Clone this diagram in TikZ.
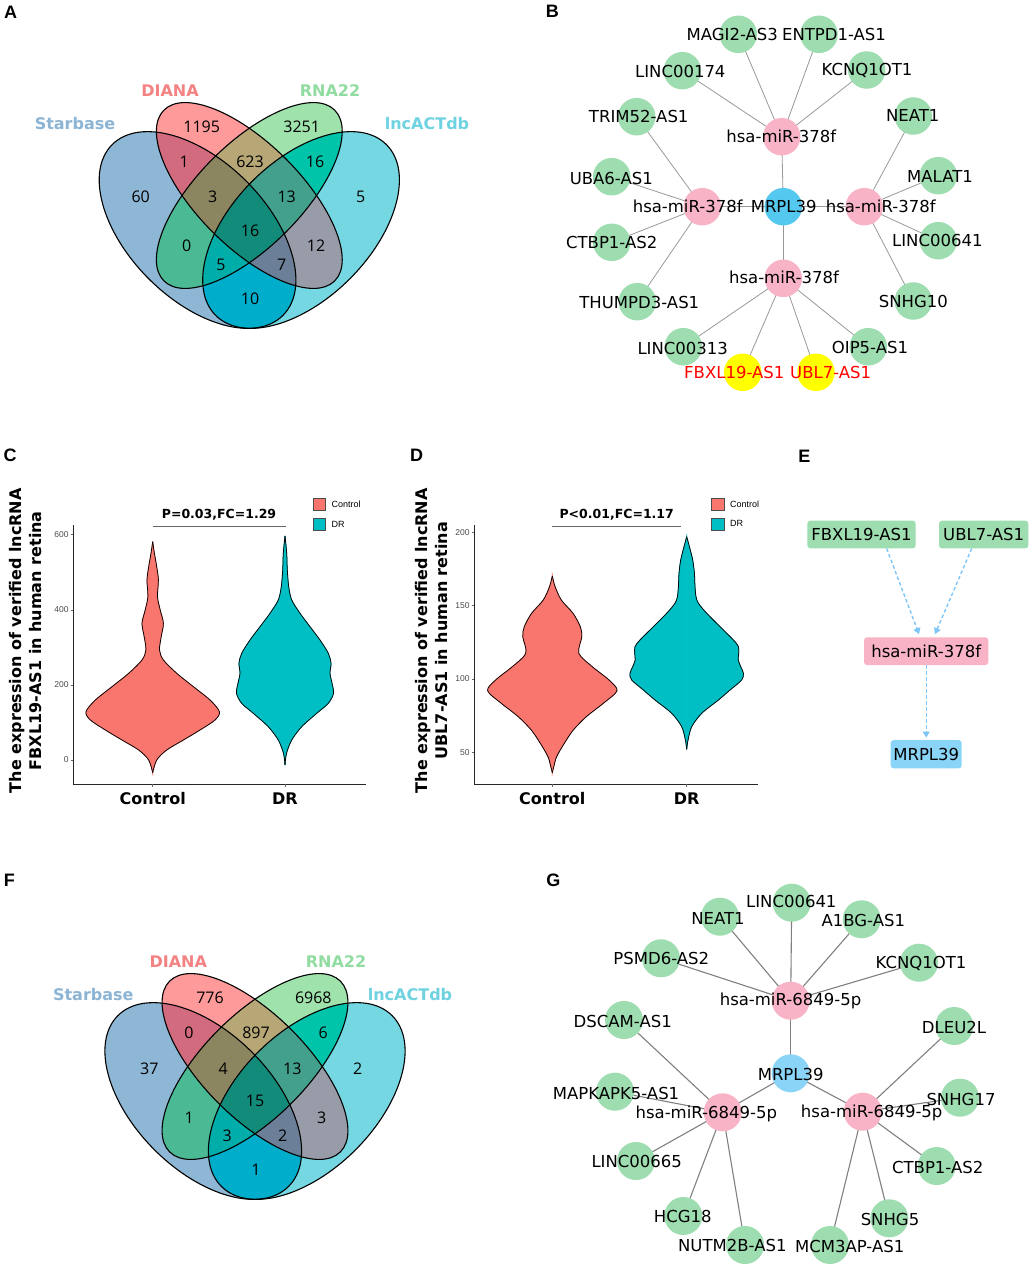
\documentclass[tikz,border=0pt]{standalone}
\usepackage{fontspec}
\setmainfont{DejaVu Sans}
\newfontfamily\arialf{Liberation Sans}
\newfontfamily\numf{Open Sans}
\usetikzlibrary{arrows.meta,calc}
\pgfdeclarelayer{bg}
\pgfsetlayers{bg,main}
% venn colours
\definecolor{vS}{HTML}{8EB7D5}
\definecolor{vD}{HTML}{FF9A9A}
\definecolor{vR}{HTML}{A0E2AB}
\definecolor{vL}{HTML}{75D7E1}
\definecolor{vSD}{HTML}{D36B7F}
\definecolor{vDR}{HTML}{B7A776}
\definecolor{vRL}{HTML}{00C4AA}
\definecolor{vSL}{HTML}{00ADCA}
\definecolor{vSR}{HTML}{4BB993}
\definecolor{vDL}{HTML}{989CA8}
\definecolor{vSDR}{HTML}{8B8660}
\definecolor{vDRL}{HTML}{43A08C}
\definecolor{vSRL}{HTML}{00ADA8}
\definecolor{vSDL}{HTML}{6B7F98}
\definecolor{vSDRL}{HTML}{138B7B}
\definecolor{tS}{HTML}{8CB4D4}
\definecolor{tD}{HTML}{F58282}
\definecolor{tR}{HTML}{91DCA0}
\definecolor{tL}{HTML}{6ED2E1}
% network colours
\definecolor{ngreen}{HTML}{9EDDB0}
\definecolor{npink}{HTML}{F8B4C6}
\definecolor{nblueB}{HTML}{55C8F0}
\definecolor{nblueG}{HTML}{8AD4F7}
\definecolor{nyellow}{HTML}{FFFF00}
\definecolor{ered}{HTML}{FF0000}
\definecolor{arrowblue}{HTML}{7DC6F7}
% violin colours
\definecolor{vctrl}{HTML}{F8766D}
\definecolor{vdr}{HTML}{00BFC4}
\newcommand\netf{\fontsize{16.5}{18}\selectfont}
\newcommand\ellS[1]{\path[#1,rotate around={-45:(-51.75,0)}] (-51.75,0) ellipse [x radius=120.75pt,y radius=69pt];}
\newcommand\ellD[1]{\path[#1,rotate around={-45:(0,-34.5)}] (0,-34.5) ellipse [x radius=120.75pt,y radius=51.75pt];}
\newcommand\ellR[1]{\path[#1,rotate around={45:(0,-34.5)}] (0,-34.5) ellipse [x radius=120.75pt,y radius=51.75pt];}
\newcommand\ellL[1]{\path[#1,rotate around={45:(51.75,0)}] (51.75,0) ellipse [x radius=120.75pt,y radius=69pt];}
\newcommand\vennshapes{%
 \ellS{fill=vS}\ellD{fill=vD}\ellR{fill=vR}\ellL{fill=vL}
 \begin{scope}\ellS{clip}\ellD{fill=vSD}\end{scope}
 \begin{scope}\ellS{clip}\ellR{fill=vSR}\end{scope}
 \begin{scope}\ellS{clip}\ellL{fill=vSL}\end{scope}
 \begin{scope}\ellD{clip}\ellR{fill=vDR}\end{scope}
 \begin{scope}\ellD{clip}\ellL{fill=vDL}\end{scope}
 \begin{scope}\ellR{clip}\ellL{fill=vRL}\end{scope}
 \begin{scope}\ellS{clip}\ellD{clip}\ellR{fill=vSDR}\end{scope}
 \begin{scope}\ellS{clip}\ellD{clip}\ellL{fill=vSDL}\end{scope}
 \begin{scope}\ellS{clip}\ellR{clip}\ellL{fill=vSRL}\end{scope}
 \begin{scope}\ellD{clip}\ellR{clip}\ellL{fill=vDRL}\end{scope}
 \begin{scope}\ellS{clip}\ellD{clip}\ellR{clip}\ellL{fill=vSDRL}\end{scope}
 \ellS{draw=black,line width=1.1pt}\ellD{draw=black,line width=1.1pt}
 \ellR{draw=black,line width=1.1pt}\ellL{draw=black,line width=1.1pt}}
\newcommand\violin[3]{%
 \begin{scope}[shift={(#1,0)}]
 \filldraw[fill=#2,draw=#2,line width=0.8pt] plot[smooth] coordinates {#3} -- cycle;
 \filldraw[fill=#2,draw=#2,line width=0.8pt,xscale=-1] plot[smooth] coordinates {#3} -- cycle;
 \draw[line width=0.75pt] plot[smooth] coordinates {#3};
 \draw[line width=0.75pt,xscale=-1] plot[smooth] coordinates {#3};
 \end{scope}}
\tikzset{
 plet/.style={font=\arialf\bfseries\fontsize{18}{18}\selectfont, inner sep=0pt},
 vnum/.style={font=\numf\fontsize{16}{16}\selectfont, inner sep=0pt, text height=11.4pt, text depth=0pt},
 vset/.style={font=\bfseries\fontsize{16}{17}\selectfont, inner sep=0pt, text height=11.5pt, text depth=0pt},
 gnode/.style={circle, fill=ngreen, minimum size=37.5pt, inner sep=0pt},
 pnode/.style={circle, fill=npink, minimum size=37.5pt, inner sep=0pt},
 ynode/.style={circle, fill=nyellow, minimum size=37.5pt, inner sep=0pt},
 lab/.style={font=\netf, inner sep=0pt, text height=12pt, text depth=0pt},
 redlab/.style={lab, text=ered},
 edgeB/.style={draw=black!40, line width=0.8pt},
 edgeG/.style={draw=black!50, line width=1.1pt},
 ebox/.style={rectangle, rounded corners=3pt, minimum height=27.7pt, inner sep=2pt, font=\netf},
 earrow/.style={draw=arrowblue, line width=1.4pt, dash pattern=on 3.5pt off 2.5pt, -{Triangle[length=6pt,width=7pt]}},
 axisl/.style={line width=0.8pt, draw=black!85},
 tickl/.style={line width=0.6pt, draw=black!60},
 ticklab/.style={font=\arialf\fontsize{8.5}{9}\selectfont, text=black!70, inner sep=0pt, anchor=east},
 xlab/.style={font=\bfseries\fontsize{16}{17}\selectfont, inner sep=0pt, text height=11.5pt, text depth=0pt},
 ytitle/.style={font=\bfseries\fontsize{16}{20}\selectfont, align=center, inner sep=0pt, rotate=90},
 sigt/.style={font=\bfseries\fontsize{12.5}{13}\selectfont, inner sep=0pt},
 legsq/.style={draw=black!70, line width=0.5pt},
 legt/.style={font=\arialf\fontsize{9}{10}\selectfont, inner sep=0pt, anchor=west},
}
\begin{document}
\begin{tikzpicture}[x=1pt,y=-1pt]
\useasboundingbox (0,0) rectangle (1031,1268);
\begin{pgfonlayer}{bg}
\fill[white] (0,0) rectangle (1031,1268);
\end{pgfonlayer}
% panel letters
\node[plet] (pA) at (10.5,12) {A};
\node[plet] (pB) at (552.3,11.7) {B};
\node[plet] (pC) at (10,455) {C};
\node[plet] (pD) at (416.7,455) {D};
\node[plet] (pE) at (804.3,456) {E};
\node[plet] (pF) at (9.3,880) {F};
\node[plet] (pG) at (553.3,880.7) {G};
% ---------------- A venn
\begin{scope}[shift={(249.3,230)}]
\vennshapes
\end{scope}
\node[vset,text=tS] (aS) at (75,123.3) {Starbase};
\node[vset,text=tD] (aD) at (170,90.7) {DIANA};
\node[vset,text=tR] (aR) at (330,90.7) {RNA22};
\node[vset,text=tL] (aL) at (427,123.3) {lncACTdb};
\node[vnum] (a1) at (201.7,127.3) {1195};
\node[vnum] (a2) at (301.7,127.3) {3251};
\node[vnum] (a3) at (184.3,161.7) {1};
\node[vnum] (a4) at (250,161.7) {623};
\node[vnum] (a5) at (315,161.7) {16};
\node[vnum] (a6) at (140.7,197.3) {60};
\node[vnum] (a7) at (212.7,197.3) {3};
\node[vnum] (a8) at (286.7,197.3) {13};
\node[vnum] (a9) at (360.7,197.3) {5};
\node[vnum] (a10) at (250,230.7) {16};
\node[vnum] (a11) at (186.7,245.7) {0};
\node[vnum] (a12) at (316,245.7) {12};
\node[vnum] (a13) at (221,265) {5};
\node[vnum] (a14) at (281.7,265) {7};
\node[vnum] (a15) at (250,298.3) {10};
% ---------------- F venn
\begin{scope}[shift={(255,1101)}]
\vennshapes
\end{scope}
\node[vset,text=tS] (fS) at (93.3,995) {Starbase};
\node[vset,text=tD] (fD) at (178.3,961.7) {DIANA};
\node[vset,text=tR] (fR) at (336,961.7) {RNA22};
\node[vset,text=tL] (fL) at (410,995) {lncACTdb};
\node[vnum] (f1) at (210,997.7) {776};
\node[vnum] (f2) at (313.3,997.7) {6968};
\node[vnum] (f3) at (189,1032.3) {0};
\node[vnum] (f4) at (256,1032.3) {897};
\node[vnum] (f5) at (323.3,1032.3) {6};
\node[vnum] (f6) at (149.3,1068.3) {37};
\node[vnum] (f7) at (223.3,1068.3) {4};
\node[vnum] (f8) at (292.3,1068.3) {13};
\node[vnum] (f9) at (357.7,1068.3) {2};
\node[vnum] (f10) at (255,1101) {15};
\node[vnum] (f11) at (189.3,1117.3) {1};
\node[vnum] (f12) at (321.7,1117.3) {3};
\node[vnum] (f13) at (227.3,1135.7) {3};
\node[vnum] (f14) at (282.7,1135.7) {2};
\node[vnum] (f15) at (256,1170) {1};
% ---------------- B network
\node[circle, fill=nblueB, minimum size=37.5pt, inner sep=0pt] (bM) at (783.3,206.7) {};
\node[pnode] (bT) at (781.7,136.7) {};
\node[pnode] (bL) at (702.3,206.7) {};
\node[pnode] (bR) at (864.3,206.7) {};
\node[pnode] (bB) at (783.3,278.3) {};
\node[gnode] (bMAGI) at (738.3,34.3) {};
\node[gnode] (bENT) at (819,34.3) {};
\node[gnode] (bL174) at (682.3,70.7) {};
\node[gnode] (bKC) at (866.7,70) {};
\node[gnode] (bTRIM) at (636.7,116.7) {};
\node[gnode] (bNEAT) at (913.3,116) {};
\node[gnode] (bUBA) at (611.7,176.7) {};
\node[gnode] (bMAL) at (938.3,175.7) {};
\node[gnode] (bCT) at (611.7,242.3) {};
\node[gnode] (bL641) at (938.3,240.7) {};
\node[gnode] (bTHU) at (637.3,301.7) {};
\node[gnode] (bSN) at (913.3,301) {};
\node[gnode] (bL313) at (683.3,346.7) {};
\node[gnode] (bOIP) at (868.3,346.7) {};
\node[ynode] (bFB) at (742.7,372.3) {};
\node[ynode] (bUB) at (816,372.3) {};
\begin{pgfonlayer}{bg}
\foreach \a/\b in {bM/bT,bM/bL,bM/bR,bM/bB,
  bT/bMAGI,bT/bENT,bT/bL174,bT/bKC,
  bL/bTRIM,bL/bUBA,bL/bCT,bL/bTHU,
  bR/bNEAT,bR/bMAL,bR/bL641,bR/bSN,
  bB/bL313,bB/bFB,bB/bUB,bB/bOIP}
  \draw[edgeB] (\a.center) -- (\b.center);
\end{pgfonlayer}
\node[lab] (lbMAGI) at (732.3,34.3) {MAGI2-AS3};
\node[lab] (lbENT) at (834,34.3) {ENTPD1-AS1};
\node[lab] (lbL174) at (680.3,71.7) {LINC00174};
\node[lab] (lbKC) at (867,70) {KCNQ1OT1};
\node[lab] (lbTRIM) at (638.7,116.7) {TRIM52-AS1};
\node[lab] (lbNEAT) at (912.7,116) {NEAT1};
\node[lab] (lbUBA) at (611.3,179) {UBA6-AS1};
\node[lab] (lbMAL) at (940,176.7) {MALAT1};
\node[lab] (lbCT) at (611.7,242.3) {CTBP1-AS2};
\node[lab] (lbL641) at (937.3,240.7) {LINC00641};
\node[lab] (lbTHU) at (639.3,302.7) {THUMPD3-AS1};
\node[lab] (lbSN) at (913.3,301.7) {SNHG10};
\node[lab] (lbL313) at (682.7,348.3) {LINC00313};
\node[lab] (lbOIP) at (870,347.7) {OIP5-AS1};
\node[redlab] (lbFB) at (734.3,372.7) {FBXL19-AS1};
\node[redlab] (lbUB) at (830.7,372.7) {UBL7-AS1};
\node[lab] (lbT) at (781.3,136.7) {hsa-miR-378f};
\node[lab] (lbL) at (687.7,206.7) {hsa-miR-378f};
\node[lab] (lbR) at (880.7,206.7) {hsa-miR-378f};
\node[lab] (lbB) at (784,277.7) {hsa-miR-378f};
\node[lab] (lbM) at (783.7,206.7) {MRPL39};
% ---------------- C violin
\violin{152.7}{vctrl}{(0,541.7) (1.7,553.3) (4,566.7) (5.7,580) (4.8,596.7) (7.5,610) (10.7,623.3) (8.5,636.7) (6.8,650) (10.7,660) (24,673.3) (40.7,686.7) (57.3,700) (66.7,711.7) (62.3,720) (47.3,730) (30.7,740) (14,750) (4,760) (0,772.7)}
\violin{285}{vdr}{(0,536) (1.7,553.3) (2.3,570) (3.7,586.7) (6.7,600) (15,613.3) (25,626.7) (35,640) (43.3,653.3) (46,663.3) (45,673.3) (47,683.3) (48.5,693.3) (43.3,703.3) (31.7,713.3) (16.7,726.7) (6.7,740) (1.5,753.3) (0,765)}
\coordinate (cO) at (73.3,784);
\coordinate (cY) at (73.3,525);
\coordinate (cX) at (365.7,784);
\draw[axisl] (cY) -- (cO) -- (cX);
\foreach \yy/\tl in {760/0,685/200,610/400,534.3/600}{
  \draw[tickl] (70.5,\yy) -- (73.3,\yy);
  \node[ticklab] at (68.8,\yy) {\tl};}
\draw[tickl] (152.7,784) -- (152.7,786.8);
\draw[tickl] (285,784) -- (285,786.8);
\node[xlab] (cxl1) at (152.7,798.3) {Control};
\node[xlab] (cxl2) at (285,798.3) {DR};
\node[ytitle] (cyt) at (25.5,640.7) {The expression of verified lncRNA\\FBXL19-AS1 in human retina};
\coordinate (cs1) at (152.7,526);
\coordinate (cs2) at (286,526);
\draw[line width=0.7pt, draw=black!60] (cs1) -- (cs2);
\node[sigt] (csig) at (219,515) {P=0.03,FC=1.29};
\draw[legsq, fill=vctrl] (313.3,498) rectangle (325,510);
\draw[legsq, fill=vdr] (313.3,518.5) rectangle (325,530.5);
\node[legt] (cl1) at (331.5,504.3) {Control};
\node[legt] (cl2) at (331.5,524.5) {DR};
% ---------------- D violin
\violin{552.3}{vctrl}{(0,576) (2.8,586.7) (9,600) (20.7,613.3) (28,626.7) (29.5,636.7) (26.5,653.3) (40,666.7) (56.7,680) (64.7,690.7) (51,703.3) (34,716.7) (21,730) (12,743.3) (4.3,756.7) (1.5,766.7) (0,772.7)}
\violin{686.7}{vdr}{(0,536.7) (2.7,546.7) (6,560) (7.7,573.3) (8.3,586.7) (9.3,596.7) (11.7,603.3) (20,613.3) (33.3,626.7) (46.7,640) (51.7,646.7) (52,653.3) (51.5,660) (54,666.7) (56.7,673.3) (55,680) (43.3,690) (31.7,700) (15,713.3) (5,726.7) (1.3,740) (0,749.3)}
\coordinate (dO) at (474.3,784);
\coordinate (dY) at (474.3,525);
\coordinate (dX) at (758.3,784);
\draw[axisl] (dY) -- (dO) -- (dX);
\foreach \yy/\tl in {752.3/50,679/100,605.7/150,532.7/200}{
  \draw[tickl] (471.5,\yy) -- (474.3,\yy);
  \node[ticklab] at (469.8,\yy) {\tl};}
\draw[tickl] (552.3,784) -- (552.3,786.8);
\draw[tickl] (686.7,784) -- (686.7,786.8);
\node[xlab] (dxl1) at (552.3,798.3) {Control};
\node[xlab] (dxl2) at (686.7,798.3) {DR};
\node[ytitle] (dyt) at (432,640.7) {The expression of verified lncRNA\\UBL7-AS1 in human retina};
\coordinate (ds1) at (552.3,526);
\coordinate (ds2) at (681,526);
\draw[line width=0.7pt, draw=black!60] (ds1) -- (ds2);
\node[sigt] (dsig) at (616.7,515) {P<0.01,FC=1.17};
\draw[legsq, fill=vctrl] (711.7,498) rectangle (724.3,510);
\draw[legsq, fill=vdr] (711.7,518) rectangle (724.3,530);
\node[legt] (dl1) at (730,504.3) {Control};
\node[legt] (dl2) at (730,523.8) {DR};
% ---------------- E
\node[ebox, fill=ngreen, minimum width=108.3pt] (eF) at (861.5,534.5) {FBXL19-AS1};
\node[ebox, fill=ngreen, minimum width=89.3pt] (eU) at (983.7,534.5) {UBL7-AS1};
\node[ebox, fill=npink, minimum width=124.3pt] (eM) at (926.2,651.2) {hsa-miR-378f};
\node[ebox, fill=nblueG, minimum width=71pt, minimum height=28.3pt] (eR) at (926.2,754.2) {MRPL39};
\draw[earrow] ($(eF.south)+(25.2,0)$) -- ($(eM.north)+(-7.2,-3)$);
\draw[earrow] ($(eU.south)+(-12,0)$) -- ($(eM.north)+(8.8,-3)$);
\draw[earrow] (eM.south) -- ($(eR.north)+(0,-2.3)$);
% ---------------- G network
\node[circle, fill=nblueG, minimum size=38pt, inner sep=0pt] (gM) at (790.7,1073.3) {};
\node[pnode, minimum size=38pt] (gT) at (790.7,1000.7) {};
\node[pnode, minimum size=38pt] (gL) at (722.7,1112.3) {};
\node[pnode, minimum size=38pt] (gR) at (862.7,1111.7) {};
\node[gnode, minimum size=38pt] (g641) at (791.7,902.7) {};
\node[gnode, minimum size=38pt] (gNE) at (720,916.7) {};
\node[gnode, minimum size=38pt] (gA1) at (861.7,919.3) {};
\node[gnode, minimum size=38pt] (gPS) at (661,958.3) {};
\node[gnode, minimum size=38pt] (gKC) at (919,962.7) {};
\node[gnode, minimum size=38pt] (gDS) at (624,1020) {};
\node[gnode, minimum size=38pt] (gDL) at (954.3,1026) {};
\node[gnode, minimum size=38pt] (gMA) at (615,1091.7) {};
\node[gnode, minimum size=38pt] (gS17) at (960,1097.7) {};
\node[gnode, minimum size=38pt] (g665) at (636,1161) {};
\node[gnode, minimum size=38pt] (gCT) at (936.7,1166) {};
\node[gnode, minimum size=38pt] (gHC) at (683.3,1216) {};
\node[gnode, minimum size=38pt] (gS5) at (889.3,1218.3) {};
\node[gnode, minimum size=38pt] (gNU) at (745,1245) {};
\node[gnode, minimum size=38pt] (gMC) at (830,1245) {};
\begin{pgfonlayer}{bg}
\foreach \a/\b in {gM/gT,gM/gL,gM/gR,
  gT/g641,gT/gNE,gT/gA1,gT/gPS,gT/gKC,
  gL/gDS,gL/gMA,gL/g665,gL/gHC,gL/gNU,
  gR/gDL,gR/gS17,gR/gCT,gR/gS5,gR/gMC}
  \draw[edgeG] (\a.center) -- (\b.center);
\end{pgfonlayer}
\node[lab] (lg641) at (791.3,901.7) {LINC00641};
\node[lab] (lgNE) at (718,918.3) {NEAT1};
\node[lab] (lgA1) at (863.3,920) {A1BG-AS1};
\node[lab] (lgPS) at (661.3,958.3) {PSMD6-AS2};
\node[lab] (lgKC) at (921,962.3) {KCNQ1OT1};
\node[lab] (lgDS) at (622.7,1021.7) {DSCAM-AS1};
\node[lab] (lgDL) at (954,1027.3) {DLEU2L};
\node[lab] (lgMA) at (616,1093.3) {MAPKAPK5-AS1};
\node[lab] (lgS17) at (961,1099) {SNHG17};
\node[lab] (lg665) at (636.7,1161.7) {LINC00665};
\node[lab] (lgCT) at (937.7,1167.3) {CTBP1-AS2};
\node[lab] (lgHC) at (682.7,1216) {HCG18};
\node[lab] (lgS5) at (890,1219.3) {SNHG5};
\node[lab] (lgNU) at (732.3,1245.7) {NUTM2B-AS1};
\node[lab] (lgMC) at (849.7,1246.7) {MCM3AP-AS1};
\node[lab] (lgT) at (790.5,999.3) {hsa-miR-6849-5p};
\node[lab] (lgL) at (706.3,1112.3) {hsa-miR-6849-5p};
\node[lab] (lgR) at (871.7,1111.7) {hsa-miR-6849-5p};
\node[lab] (lgM) at (790.7,1074) {MRPL39};
\end{tikzpicture}
\end{document}
